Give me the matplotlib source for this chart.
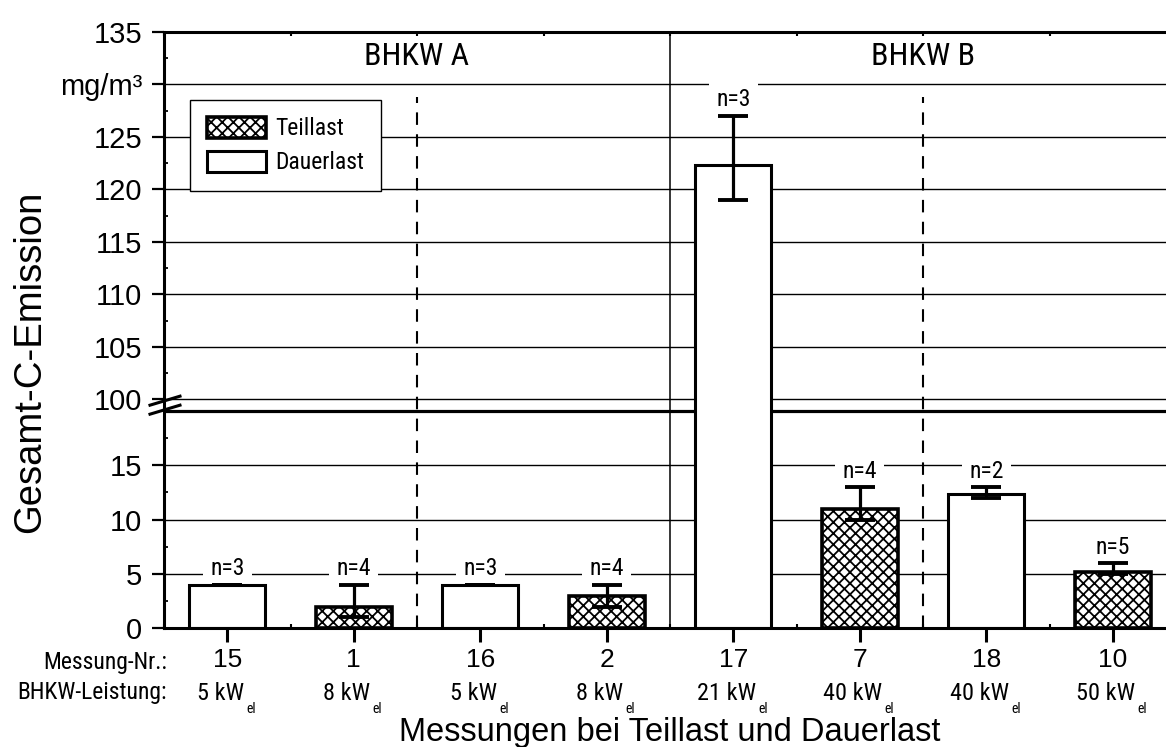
import numpy as np
import matplotlib
matplotlib.use('Agg')
import matplotlib.pyplot as plt
from matplotlib.patches import Patch
from matplotlib.lines import Line2D

plt.rcParams['font.family'] = ['Liberation Sans', 'DejaVu Sans']
plt.rcParams['hatch.linewidth'] = 1.3
schmal = ['Roboto Condensed', 'Liberation Sans', 'DejaVu Sans']

# Daten
mess_nr = ['15', '1', '16', '2', '17', '7', '18', '10']
leistung = ['5 kW', '8 kW', '5 kW', '8 kW', '21 kW', '40 kW', '40 kW', '50 kW']
last = ['Dauerlast', 'Teillast', 'Dauerlast', 'Teillast',
        'Dauerlast', 'Teillast', 'Dauerlast', 'Teillast']
mittel = [4.0, 2.0, 4.0, 3.0, 122.3, 11.0, 12.4, 5.2]
err_unten = [4.0, 1.0, 4.0, 2.0, 119.0, 10.0, 12.0, 5.0]
err_oben = [4.0, 4.0, 4.0, 4.0, 127.0, 13.0, 13.0, 6.0]
n_werte = [3, 4, 3, 4, 3, 4, 2, 5]
bhkw = ['BHKW A', 'BHKW B']

y_ticks = [0, 5, 10, 15, 100, 105, 110, 115, 120, 125, 130, 135]
y_ticklabels = ['0', '5', '10', '15', '100', '105', '110', '115', '120', '125', 'mg/m³', '135']

# gebrochene Achse: 0-20 und 100-135
_xp = [-1000.0, 20.0, 100.0, 1000.0]
_fp = [-1000.0, 20.0, 21.05, 21.05 + 900 * 0.9666]

def fwd(y):
    return np.interp(np.asarray(y, float), _xp, _fp)

def inv(s):
    return np.interp(np.asarray(s, float), _fp, _xp)

W, H = 1166, 747
fig = plt.figure(figsize=(W / 100, H / 100), dpi=100)
ax = fig.add_axes([164 / W, 1 - 628.3 / H, 1012 / W, (628.3 - 31.7) / H])
ax.set_yscale('function', functions=(fwd, inv))

x = np.arange(len(mess_nr))
ax.set_xlim(-0.5, 7.5)
ax.set_ylim(0, 135)

# Gitterlinien
for yy in [5, 10, 15, 100, 105, 110, 115, 120, 125, 130]:
    ax.axhline(yy, color='black', lw=1.0, zorder=0.5)
ax.axhline(20, color='black', lw=2.3, zorder=0.6)

ax.vlines(3.5, 0, 135, color='black', lw=1.1, zorder=1)
ax.vlines([1.5, 5.5], 0, 128.8, color='black', lw=1.5,
          linestyles=[(0, (6, 4.5))], zorder=1)

bars = ax.bar(x, mittel, width=0.6, color='white', edgecolor='black', lw=2.2, zorder=2)
for b, l in zip(bars, last):
    if l == 'Teillast':
        b.set_hatch('xxx')
        b.set_linewidth(2.6)

unten = np.array(mittel) - np.array(err_unten)
oben = np.array(err_oben) - np.array(mittel)
ax.errorbar(x, mittel, yerr=[unten, oben], fmt='none', ecolor='black',
            elinewidth=2.3, capsize=10.5, capthick=2.8, zorder=3)

for xi, top, n in zip(x, err_oben, n_werte):
    ax.annotate(f'n={n}', xy=(xi, top), xytext=(0, 11.5), textcoords='offset points',
                ha='center', va='center', fontsize=17, family=schmal,
                bbox=dict(boxstyle='square,pad=0.3', fc='white', ec='none'), zorder=1.5)

ax.text(1.5, 132.6, bhkw[0], ha='center', va='center', fontsize=23, family=schmal)
ax.text(5.5, 132.6, bhkw[1], ha='center', va='center', fontsize=23, family=schmal)

# Achsen
for s in ['left', 'bottom', 'top']:
    ax.spines[s].set_linewidth(2.2)
ax.spines['right'].set_visible(False)

ax.set_yticks(y_ticks)
ax.set_yticklabels(y_ticklabels)
ax.set_yticks([2.5, 7.5, 12.5, 17.5, 102.5, 107.5, 112.5, 117.5, 122.5, 127.5, 132.5], minor=True)
ax.tick_params(axis='y', which='major', direction='out', length=8.6, width=1.6,
               labelsize=21, pad=7)
ax.tick_params(axis='y', which='minor', direction='in', length=3, width=1.3)

ax.set_xticks(x)
ax.set_xticklabels(mess_nr)
ax.set_xticks(np.arange(-0.5, 7.51, 0.5), minor=True)
ax.tick_params(axis='x', which='major', direction='out', length=10, width=2.2,
               labelsize=19, pad=4)
ax.tick_params(axis='x', which='minor', direction='in', length=3, width=1.5, top=True)

# Bruchzeichen
p_hi = ax.transData.transform((-0.5, 100))
p_lo = ax.transData.transform((-0.5, 20))
cx, cy = p_hi[0], (p_hi[1] + p_lo[1]) / 2
to_fig = fig.transFigure.inverted()
for dy in [4.5, -4.5]:
    pts = to_fig.transform([(cx - 14, cy + dy - 4.5), (cx + 16, cy + dy + 4.5)])
    fig.add_artist(Line2D(pts[:, 0], pts[:, 1], color='black', lw=2.2,
                          transform=fig.transFigure))

# Beschriftung unter der Achse
for xi, lab in zip(x, leistung):
    t = ax.annotate(lab, xy=(xi, 1 - 693 / H), xycoords=('data', 'figure fraction'),
                    xytext=(-5, 0), textcoords='offset points',
                    ha='center', va='center', fontsize=17.5, family=schmal)
    ax.annotate('el', xy=(1, 0), xycoords=t, xytext=(1.5, -3), textcoords='offset points',
                ha='left', va='center', fontsize=10, family=schmal)

fig.text(167 / W, 1 - 662 / H, 'Messung-Nr.:', ha='right', va='center',
         fontsize=17, family=schmal)
fig.text(167 / W, 1 - 693 / H, 'BHKW-Leistung:', ha='right', va='center',
         fontsize=17, family=schmal)
fig.text(670 / W, 1 - 733 / H, 'Messungen bei Teillast und Dauerlast',
         ha='center', va='center', fontsize=23.5)
fig.text(30 / W, 1 - 362 / H, 'Gesamt-C-Emission', rotation=90,
         ha='center', va='center', fontsize=27.5)

handles = [Patch(facecolor='white', edgecolor='black', hatch='xxx', lw=2.6, label='Teillast'),
           Patch(facecolor='white', edgecolor='black', lw=2.2, label='Dauerlast')]
leg = ax.legend(handles=handles, loc='upper left', bbox_to_anchor=(190 / W, 1 - 100 / H),
                bbox_transform=fig.transFigure, borderaxespad=0, fancybox=False,
                edgecolor='black', framealpha=1, prop={'family': schmal, 'size': 17},
                handlelength=2.5, handleheight=1.0, handletextpad=0.4,
                labelspacing=0.45, borderpad=0.7)
leg.get_frame().set_linewidth(1.0)

fig.savefig('out.png', dpi=100)
